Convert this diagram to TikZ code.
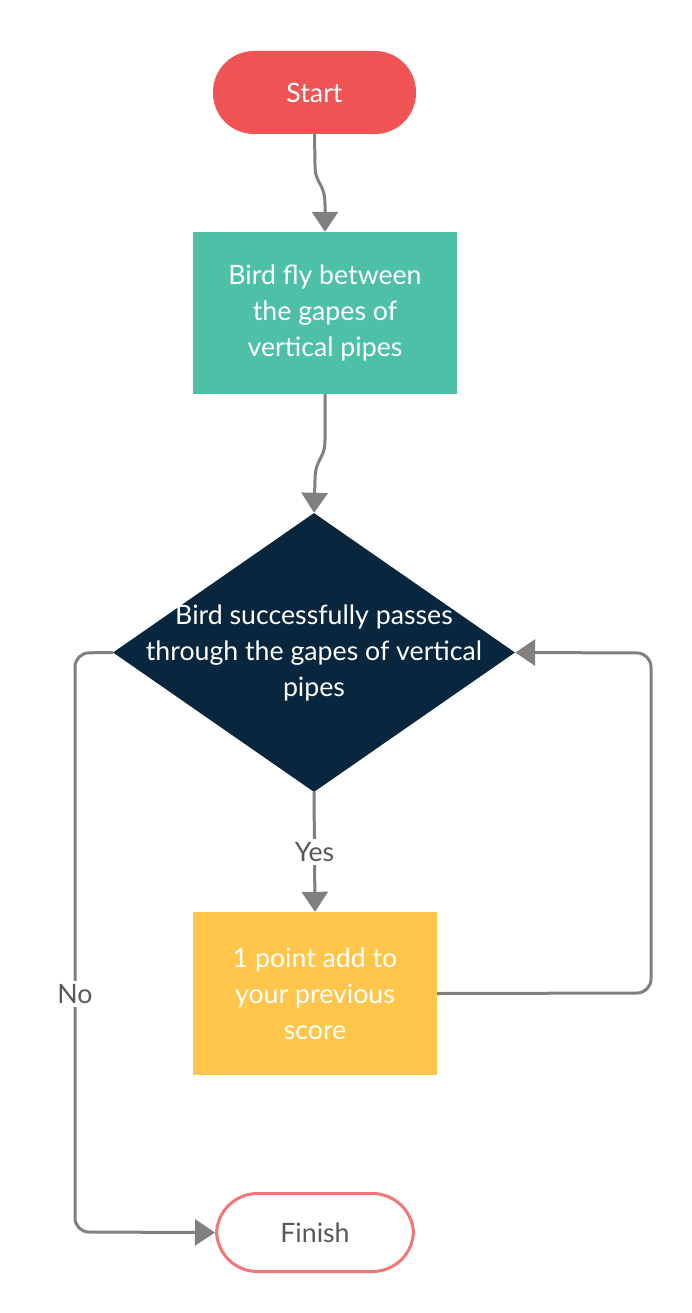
\documentclass[tikz,border=0pt]{standalone}
\usepackage{fontspec}
\setmainfont{Lato}
\usetikzlibrary{arrows.meta,shapes.geometric}
\definecolor{cred}{HTML}{F05454}
\definecolor{cgreen}{HTML}{4FC0A8}
\definecolor{cnavy}{HTML}{08263D}
\definecolor{cyellow}{HTML}{FFC64B}
\definecolor{cfin}{HTML}{F47575}
\definecolor{cline}{HTML}{808080}
\definecolor{ctext}{HTML}{595959}
\begin{document}
\begin{tikzpicture}[x=1pt,y=1pt,
  every node/.style={font=\fontsize{26.7}{36}\selectfont},
  term/.style={minimum width=203pt,minimum height=83pt,rounded corners=41pt,inner sep=0pt},
  procbox/.style={fill=cgreen,text=white,align=center,inner sep=0pt},
  dec/.style={diamond,fill=cnavy,inner sep=0pt,minimum width=402pt,minimum height=279pt},
  conn/.style={draw=cline,line width=3pt,-{Triangle[width=26pt,length=20pt]}},
  lbl/.style={fill=white,text=ctext,inner sep=3pt}]
\useasboundingbox (0,0) rectangle (691,-1313);
\node[term,fill=cred,text=white] (s) at (314.5,-92.5) {Start};
\node[procbox,minimum width=264pt,minimum height=162pt] (b) at (325,-313) {Bird fly between\\the gapes of\\vertical pipes};
\node[dec] (d) at (314,-652.5) {};
\node[text=white,align=center] (dt) at (d.center) {Bird successfully passes\\through the gapes of vertical\\pipes};
\node[procbox,fill=cyellow,minimum width=244pt,minimum height=163pt] (y) at (315,-993.5) {1 point add to\\your previous\\score};
\node[term,draw=cfin,line width=3pt,fill=white,text=ctext,minimum width=197pt,minimum height=78pt] (f) at (315,-1232.5) {Finish};
\draw[conn] (s.south) -- (315,-165) .. controls (315,-185) and (325,-182) .. (325,-205) -- (b.north);
\draw[conn] (b.south) -- (325,-440) .. controls (325,-460) and (315,-458) .. (315,-480) -- (d.north);
\draw[conn] (d.south) -- node[lbl] (yes) {Yes} (y.north);
\draw[conn,rounded corners=14pt] (y.east) -- (651,-993) -- (651,-653) -- (d.east);
\draw[conn,rounded corners=14pt] (d.west) -- (75,-653) -- (75,-1232) -- (f.west);
\node[lbl] (no) at (75,-994) {No};
\end{tikzpicture}
\end{document}
